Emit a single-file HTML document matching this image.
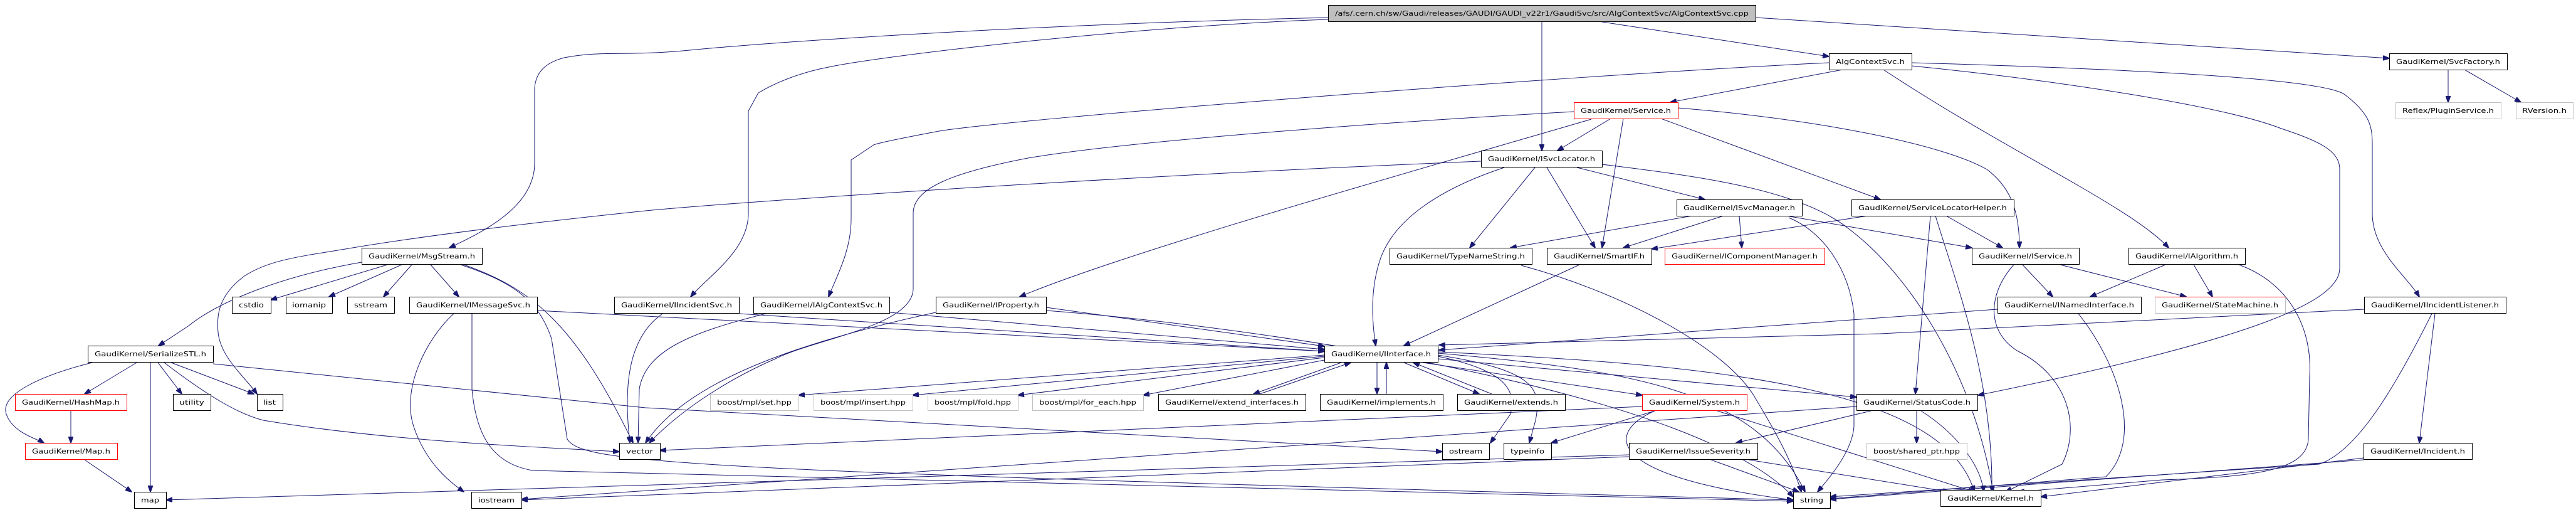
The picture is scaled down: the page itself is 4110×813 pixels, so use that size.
<!DOCTYPE html>
<html><head><meta charset="utf-8"><style>
html,body{margin:0;padding:0;background:#fff;}
svg{display:block;}
text{font-family:"DejaVu Sans","Liberation Sans",sans-serif;font-size:11px;fill:#000;}
.e{fill:none;stroke:#191970;stroke-width:1;}
.n{fill:#fff;stroke:#000;stroke-width:1;}
.r{fill:#fff;stroke:#ff0000;stroke-width:1;}
.g{fill:#fff;stroke:#bfbfbf;stroke-width:1;}
</style></head><body>
<svg width="4110" height="813" viewBox="0 0 4110 813" xmlns="http://www.w3.org/2000/svg">
<defs><marker id="a" markerWidth="11" markerHeight="8" refX="10" refY="4" orient="auto" markerUnits="userSpaceOnUse"><path d="M0,0 L11,4 L0,8 z" fill="#191970" stroke="#191970"/></marker></defs>
<g class="e" marker-end="url(#a)">
<path d="M2119,28 C1600,40 1200,70 1100,80 C1000,90 960,80 900,92 C870,100 855,115 853,140 L853,260 C853,330 770,370 717,395"/>
<path d="M2119,31 C1800,42 1400,90 1322,107 C1280,115 1240,130 1210,148 L1194,177 L1194,340 C1194,400 1130,440 1102,473"/>
<path d="M2460,34 L2460,240"/>
<path d="M2550,34 L2918,90"/>
<path d="M2801,28 L3812,93"/>
<path d="M2940,111 L2665,163"/>
<path d="M2918,100 C2500,120 1600,190 1493,210 C1440,220 1400,228 1394,231 L1358,255 L1358,349 C1358,400 1335,440 1322,473"/>
<path d="M3050,100 C3400,110 3700,125 3740,150 C3780,180 3785,200 3785,230 L3785,340 C3785,400 3840,440 3860,473"/>
<path d="M3050,105 C3300,130 3550,170 3640,205 C3700,225 3733,240 3733,270 L3733,428 C3733,480 3600,540 3156,630"/>
<path d="M3005,111 C3200,240 3400,330 3460,395"/>
<path d="M2570,189 L2485,240"/>
<path d="M2590,189 L2556,395"/>
<path d="M2677,172 C2900,190 3100,230 3170,270 C3210,300 3222,340 3222,395"/>
<path d="M2650,189 L3000,318"/>
<path d="M2539,190 C2300,260 1800,400 1627,473"/>
<path d="M2511,178 C2200,195 1800,225 1640,252 C1520,275 1457,300 1457,340 L1457,460 C1457,520 1300,540 1237,572 C1150,610 1080,660 1036,706"/>
<path d="M2363,257 C1800,280 1200,320 1030,336 C800,360 650,380 545,398 C470,410 427,416 390,440 C350,470 345,500 348,530 C352,570 390,600 410,628"/>
<path d="M2400,267 C2300,300 2220,350 2200,420 C2185,470 2190,520 2195,551"/>
<path d="M2449,267 L2345,395"/>
<path d="M2468,267 L2545,395"/>
<path d="M2516,267 L2720,318"/>
<path d="M2556,262 C2700,280 2870,300 2950,365 C3050,440 3150,600 3180,784"/>
<path d="M2700,344 L2410,395"/>
<path d="M2750,344 L2590,395"/>
<path d="M2775,344 L2779,395"/>
<path d="M2850,344 L3146,395"/>
<path d="M2854,347 C2910,370 2950,430 2958,500 L2958,680 C2955,720 2920,760 2900,784"/>
<path d="M2980,344 L2635,397"/>
<path d="M3105,344 L3195,395"/>
<path d="M3080,344 L3056,628"/>
<path d="M3088,344 C3120,450 3180,600 3178,784"/>
<path d="M2427,423 C2600,470 2760,560 2802,637 C2840,700 2860,740 2874,784"/>
<path d="M2520,422 L2240,551"/>
<path d="M3227,422 L3275,473"/>
<path d="M3287,422 L3488,473"/>
<path d="M3213,422 C3170,470 3170,530 3220,560 C3300,600 3320,680 3290,740 L3200,784"/>
<path d="M3455,422 L3335,473"/>
<path d="M3500,422 L3530,473"/>
<path d="M3572,422 C3650,450 3690,520 3685,600 L3683,700 C3680,750 3600,760 3450,765 L3220,784"/>
<path d="M3187,493 L2296,558"/>
<path d="M3316,500 C3380,580 3420,700 3360,760 L2920,795"/>
<path d="M3772,493 L3000,532 L2296,550"/>
<path d="M3885,500 L3860,706"/>
<path d="M3880,500 C3820,620 3760,720 3700,740 L2920,792"/>
<path d="M3771,730 L3256,792"/>
<path d="M3771,733 L2920,796"/>
<path d="M3906,111 L3906,163"/>
<path d="M3932,111 L4022,163"/>
<path d="M618,422 L432,478"/>
<path d="M641,422 L525,473"/>
<path d="M657,422 L612,473"/>
<path d="M687,422 L732,473"/>
<path d="M577,418 C450,440 350,480 300,520 L253,551"/>
<path d="M740,422 C850,460 920,520 1010,706"/>
<path d="M735,422 C820,450 860,480 880,540 L905,700 C930,740 1100,750 2861,797"/>
<path d="M724,500 C680,540 640,620 660,680 C680,740 720,770 740,784"/>
<path d="M753,500 L753,620 C760,700 790,740 850,750 L2861,799"/>
<path d="M857,495 L2113,560"/>
<path d="M218,578 L135,628"/>
<path d="M147,578 C60,600 0,630 10,660 C20,690 60,700 70,706"/>
<path d="M240,578 L240,784"/>
<path d="M252,578 L290,628"/>
<path d="M273,578 L405,628"/>
<path d="M262,578 C330,630 380,660 420,670 C600,700 800,710 988,720"/>
<path d="M340,580 L1030,650 L2301,720"/>
<path d="M113,655 L113,706"/>
<path d="M135,733 L210,784"/>
<path d="M1179,500 L2113,560"/>
<path d="M1057,500 C1000,540 995,620 1005,706"/>
<path d="M1419,498 L2113,557"/>
<path d="M1222,500 C1100,530 1030,560 1020,620 L1018,706"/>
<path d="M1669,490 L2113,552"/>
<path d="M1493,498 C1300,540 1100,600 1030,706"/>
<path d="M1669,495 C2000,520 2700,620 2861,792"/>
<path d="M2113,566 L1274,630"/>
<path d="M2113,568 L1456,630"/>
<path d="M2113,570 L1624,630"/>
<path d="M2113,574 L1824,630"/>
<path d="M2140,578 L2000,628"/>
<path d="M2010,628 L2155,578"/>
<path d="M2197,578 L2197,628"/>
<path d="M2212,628 L2212,578"/>
<path d="M2240,578 L2360,628"/>
<path d="M2380,628 L2255,578"/>
<path d="M2270,578 L2620,630"/>
<path d="M2294,572 L2962,633"/>
<path d="M2294,568 C2400,590 2420,620 2410,660 L2378,706"/>
<path d="M2294,566 C2450,590 2460,620 2450,670 L2440,706"/>
<path d="M2294,563 C2600,590 2800,620 2880,784"/>
<path d="M2294,561 C2700,580 3100,610 3150,784"/>
<path d="M2620,648 L1053,718"/>
<path d="M2640,655 L2475,706"/>
<path d="M2640,655 C2560,690 2560,760 2861,797"/>
<path d="M2740,655 L3150,784"/>
<path d="M3058,655 L3058,706"/>
<path d="M3065,655 C3120,690 3160,740 3165,784"/>
<path d="M2985,655 L2770,706"/>
<path d="M2962,648 L832,796"/>
<path d="M2730,733 L2870,784"/>
<path d="M2599,725 L265,797"/>
<path d="M2599,728 L832,797"/>
<path d="M2790,733 L3110,784"/>
</g>
<g>
<rect x="2119.5" y="8.5" width="682" height="26" fill="#bfbfbf" stroke="#000"/><text x="2130" y="25" textLength="660" lengthAdjust="spacingAndGlyphs">/afs/.cern.ch/sw/Gaudi/releases/GAUDI/GAUDI_v22r1/GaudiSvc/src/AlgContextSvc/AlgContextSvc.cpp</text>
<rect class="n" x="2918.5" y="85.5" width="132" height="26"/><text x="2929" y="102" textLength="110" lengthAdjust="spacingAndGlyphs">AlgContextSvc.h</text>
<rect class="n" x="3812.5" y="85.5" width="188" height="26"/><text x="3823" y="102" textLength="166" lengthAdjust="spacingAndGlyphs">GaudiKernel/SvcFactory.h</text>
<rect class="r" x="2511.5" y="163.5" width="166" height="26"/><text x="2522" y="180" textLength="144" lengthAdjust="spacingAndGlyphs">GaudiKernel/Service.h</text>
<rect class="g" x="3822.5" y="163.5" width="168" height="26"/><text x="3833" y="180" textLength="146" lengthAdjust="spacingAndGlyphs">Reflex/PluginService.h</text>
<rect class="g" x="4014.5" y="163.5" width="91" height="26"/><text x="4024" y="180" textLength="71" lengthAdjust="spacingAndGlyphs">RVersion.h</text>
<rect class="n" x="2363.5" y="240.5" width="193" height="26"/><text x="2374" y="257" textLength="171" lengthAdjust="spacingAndGlyphs">GaudiKernel/ISvcLocator.h</text>
<rect class="n" x="2675.5" y="318.5" width="200" height="26"/><text x="2686" y="335" textLength="178" lengthAdjust="spacingAndGlyphs">GaudiKernel/ISvcManager.h</text>
<rect class="n" x="2954.5" y="318.5" width="259" height="26"/><text x="2965" y="335" textLength="237" lengthAdjust="spacingAndGlyphs">GaudiKernel/ServiceLocatorHelper.h</text>
<rect class="n" x="2217.5" y="395.5" width="227" height="26"/><text x="2228" y="412" textLength="205" lengthAdjust="spacingAndGlyphs">GaudiKernel/TypeNameString.h</text>
<rect class="n" x="2468.5" y="395.5" width="167" height="26"/><text x="2479" y="412" textLength="145" lengthAdjust="spacingAndGlyphs">GaudiKernel/SmartIF.h</text>
<rect class="r" x="2656.5" y="395.5" width="255" height="26"/><text x="2667" y="412" textLength="233" lengthAdjust="spacingAndGlyphs">GaudiKernel/IComponentManager.h</text>
<rect class="n" x="3146.5" y="395.5" width="171" height="26"/><text x="3157" y="412" textLength="149" lengthAdjust="spacingAndGlyphs">GaudiKernel/IService.h</text>
<rect class="n" x="3396.5" y="395.5" width="186" height="26"/><text x="3407" y="412" textLength="164" lengthAdjust="spacingAndGlyphs">GaudiKernel/IAlgorithm.h</text>
<rect class="n" x="577.5" y="395.5" width="192" height="26"/><text x="588" y="412" textLength="170" lengthAdjust="spacingAndGlyphs">GaudiKernel/MsgStream.h</text>
<rect class="n" x="370.5" y="473.5" width="62" height="26"/><text x="381" y="490" textLength="40" lengthAdjust="spacingAndGlyphs">cstdio</text>
<rect class="n" x="456.5" y="473.5" width="74" height="26"/><text x="466" y="490" textLength="54" lengthAdjust="spacingAndGlyphs">iomanip</text>
<rect class="n" x="554.5" y="473.5" width="75" height="26"/><text x="565" y="490" textLength="53" lengthAdjust="spacingAndGlyphs">sstream</text>
<rect class="n" x="653.5" y="473.5" width="204" height="26"/><text x="664" y="490" textLength="182" lengthAdjust="spacingAndGlyphs">GaudiKernel/IMessageSvc.h</text>
<rect class="n" x="980.5" y="473.5" width="199" height="26"/><text x="991" y="490" textLength="177" lengthAdjust="spacingAndGlyphs">GaudiKernel/IIncidentSvc.h</text>
<rect class="n" x="1202.5" y="473.5" width="217" height="26"/><text x="1213" y="490" textLength="195" lengthAdjust="spacingAndGlyphs">GaudiKernel/IAlgContextSvc.h</text>
<rect class="n" x="1493.5" y="473.5" width="176" height="26"/><text x="1504" y="490" textLength="154" lengthAdjust="spacingAndGlyphs">GaudiKernel/IProperty.h</text>
<rect class="n" x="3187.5" y="473.5" width="229" height="26"/><text x="3198" y="490" textLength="207" lengthAdjust="spacingAndGlyphs">GaudiKernel/INamedInterface.h</text>
<rect x="3438.5" y="473.5" width="208" height="26" fill="#fff" stroke="#bfbfbf"/><line x1="3438" y1="473.5" x2="3647" y2="473.5" stroke="#ff0000"/><text x="3449" y="490" textLength="186" lengthAdjust="spacingAndGlyphs">GaudiKernel/StateMachine.h</text>
<rect class="n" x="3772.5" y="473.5" width="226" height="26"/><text x="3783" y="490" textLength="204" lengthAdjust="spacingAndGlyphs">GaudiKernel/IIncidentListener.h</text>
<rect class="n" x="140.5" y="551.5" width="200" height="26"/><text x="151" y="568" textLength="178" lengthAdjust="spacingAndGlyphs">GaudiKernel/SerializeSTL.h</text>
<rect class="n" x="2113.5" y="551.5" width="181" height="26"/><text x="2124" y="568" textLength="159" lengthAdjust="spacingAndGlyphs">GaudiKernel/IInterface.h</text>
<rect class="r" x="24.5" y="628.5" width="178" height="26"/><text x="35" y="645" textLength="156" lengthAdjust="spacingAndGlyphs">GaudiKernel/HashMap.h</text>
<rect class="n" x="276.5" y="628.5" width="60" height="26"/><text x="286" y="645" textLength="40" lengthAdjust="spacingAndGlyphs">utility</text>
<rect class="n" x="410.5" y="628.5" width="41" height="26"/><text x="420" y="645" textLength="20" lengthAdjust="spacingAndGlyphs">list</text>
<rect class="g" x="1133.5" y="628.5" width="141" height="26"/><text x="1144" y="645" textLength="119" lengthAdjust="spacingAndGlyphs">boost/mpl/set.hpp</text>
<rect class="g" x="1298.5" y="628.5" width="158" height="26"/><text x="1309" y="645" textLength="136" lengthAdjust="spacingAndGlyphs">boost/mpl/insert.hpp</text>
<rect class="g" x="1480.5" y="628.5" width="144" height="26"/><text x="1491" y="645" textLength="122" lengthAdjust="spacingAndGlyphs">boost/mpl/fold.hpp</text>
<rect class="g" x="1647.5" y="628.5" width="177" height="26"/><text x="1658" y="645" textLength="155" lengthAdjust="spacingAndGlyphs">boost/mpl/for_each.hpp</text>
<rect class="n" x="1848.5" y="628.5" width="235" height="26"/><text x="1859" y="645" textLength="213" lengthAdjust="spacingAndGlyphs">GaudiKernel/extend_interfaces.h</text>
<rect class="n" x="2106.5" y="628.5" width="196" height="26"/><text x="2117" y="645" textLength="174" lengthAdjust="spacingAndGlyphs">GaudiKernel/implements.h</text>
<rect class="n" x="2325.5" y="628.5" width="172" height="26"/><text x="2336" y="645" textLength="150" lengthAdjust="spacingAndGlyphs">GaudiKernel/extends.h</text>
<rect class="r" x="2620.5" y="628.5" width="167" height="26"/><text x="2631" y="645" textLength="145" lengthAdjust="spacingAndGlyphs">GaudiKernel/System.h</text>
<rect class="n" x="2962.5" y="628.5" width="193" height="26"/><text x="2973" y="645" textLength="171" lengthAdjust="spacingAndGlyphs">GaudiKernel/StatusCode.h</text>
<rect class="r" x="40.5" y="706.5" width="147" height="26"/><text x="51" y="723" textLength="125" lengthAdjust="spacingAndGlyphs">GaudiKernel/Map.h</text>
<rect class="n" x="988.5" y="706.5" width="65" height="26"/><text x="999" y="723" textLength="43" lengthAdjust="spacingAndGlyphs">vector</text>
<rect class="n" x="2301.5" y="706.5" width="75" height="26"/><text x="2312" y="723" textLength="53" lengthAdjust="spacingAndGlyphs">ostream</text>
<rect class="n" x="2399.5" y="706.5" width="76" height="26"/><text x="2410" y="723" textLength="54" lengthAdjust="spacingAndGlyphs">typeinfo</text>
<rect class="n" x="2599.5" y="706.5" width="205" height="26"/><text x="2610" y="723" textLength="183" lengthAdjust="spacingAndGlyphs">GaudiKernel/IssueSeverity.h</text>
<rect class="g" x="2978.5" y="706.5" width="160" height="26"/><text x="2989" y="723" textLength="138" lengthAdjust="spacingAndGlyphs">boost/shared_ptr.hpp</text>
<rect class="n" x="3771.5" y="706.5" width="173" height="26"/><text x="3782" y="723" textLength="151" lengthAdjust="spacingAndGlyphs">GaudiKernel/Incident.h</text>
<rect class="n" x="214.5" y="784.5" width="51" height="26"/><text x="225" y="801" textLength="29" lengthAdjust="spacingAndGlyphs">map</text>
<rect class="n" x="752.5" y="784.5" width="80" height="26"/><text x="763" y="801" textLength="58" lengthAdjust="spacingAndGlyphs">iostream</text>
<rect class="n" x="2861.5" y="784.5" width="59" height="26"/><text x="2872" y="801" textLength="37" lengthAdjust="spacingAndGlyphs">string</text>
<rect class="n" x="3096.5" y="781.5" width="160" height="26"/><text x="3107" y="798" textLength="138" lengthAdjust="spacingAndGlyphs">GaudiKernel/Kernel.h</text>
</g>
</svg>
</body></html>
